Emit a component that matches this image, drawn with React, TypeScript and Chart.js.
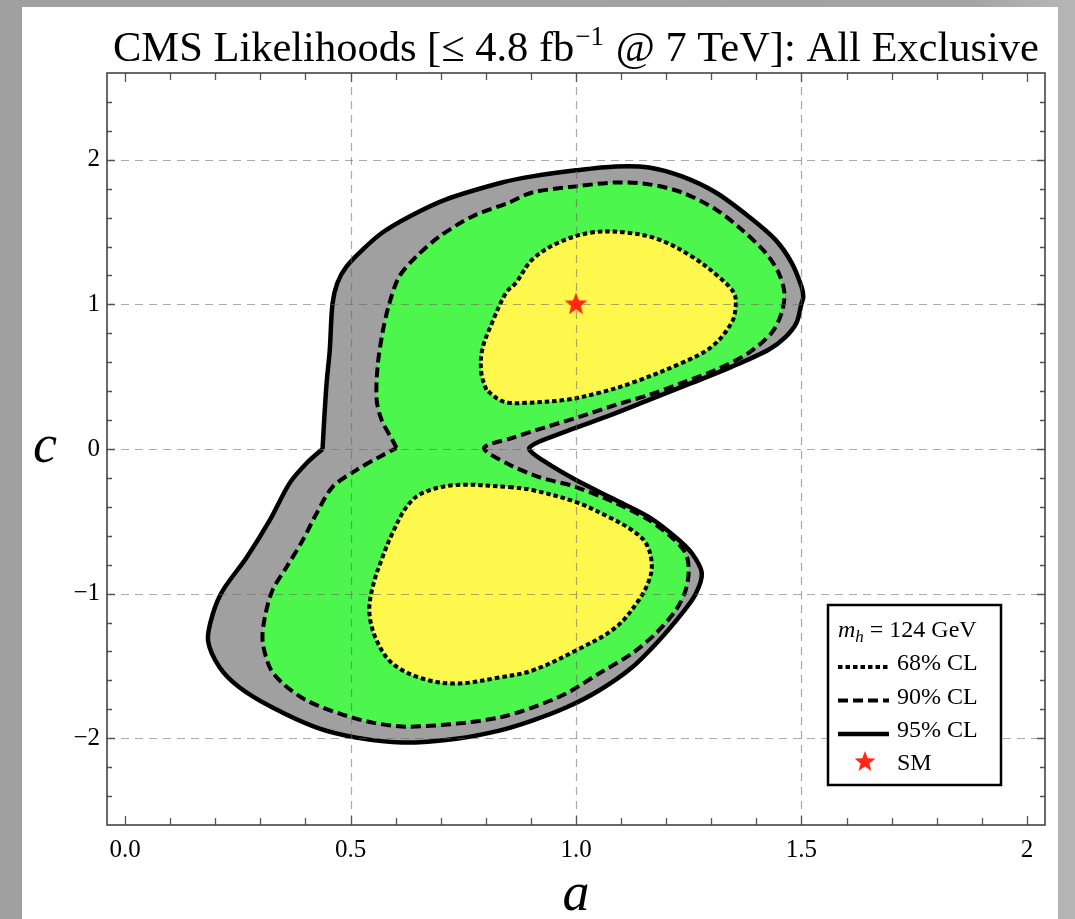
import React, { useEffect, useRef } from 'react';
import { Chart, registerables } from 'chart.js';

Chart.register(...registerables);

// 95% CL contour (solid)
const CL95_A = [0.438, 0.442, 0.447, 0.454, 0.460, 0.471, 0.491, 0.527, 0.571, 0.631, 0.712, 0.836, 0.903, 1.000, 1.088, 1.162, 1.235, 1.310, 1.383, 1.442, 1.478, 1.500, 1.504, 1.500, 1.489, 1.465, 1.427, 1.345, 1.257, 1.162, 1.066, 0.969, 0.912, 0.896, 0.925, 1.000, 1.088, 1.162, 1.221, 1.257, 1.279, 1.265, 1.235, 1.184, 1.124, 1.051, 0.978, 0.903, 0.830, 0.735, 0.615, 0.513, 0.425, 0.327, 0.254, 0.210, 0.184, 0.195, 0.217, 0.270, 0.321, 0.365, 0.403];
const CL95_C = [0, 0.222, 0.457, 0.686, 1.005, 1.150, 1.261, 1.379, 1.497, 1.608, 1.726, 1.843, 1.885, 1.927, 1.954, 1.947, 1.885, 1.774, 1.608, 1.448, 1.289, 1.123, 1.053, 1.005, 0.873, 0.776, 0.686, 0.568, 0.457, 0.340, 0.222, 0.111, 0.042, 0, -0.076, -0.215, -0.353, -0.471, -0.610, -0.721, -0.859, -1.005, -1.137, -1.324, -1.511, -1.670, -1.788, -1.878, -1.947, -2.003, -2.030, -1.996, -1.927, -1.788, -1.649, -1.511, -1.324, -1.137, -0.977, -0.748, -0.492, -0.236, -0.097];

// 90% CL contour (dashed)
const CL90_A = [0.602, 0.593, 0.569, 0.558, 0.560, 0.571, 0.586, 0.608, 0.646, 0.697, 0.770, 0.852, 0.903, 1.000, 1.088, 1.162, 1.235, 1.310, 1.367, 1.420, 1.449, 1.462, 1.456, 1.434, 1.383, 1.310, 1.235, 1.162, 1.088, 1.007, 0.934, 0.858, 0.796, 0.845, 0.918, 1.000, 1.088, 1.162, 1.212, 1.243, 1.250, 1.243, 1.221, 1.177, 1.124, 1.051, 0.978, 0.903, 0.830, 0.735, 0.624, 0.549, 0.476, 0.403, 0.350, 0.321, 0.305, 0.310, 0.327, 0.358, 0.394, 0.425, 0.460, 0.513, 0.564];
const CL90_C = [0.007, 0.062, 0.201, 0.340, 0.568, 0.804, 1.005, 1.192, 1.331, 1.469, 1.608, 1.705, 1.774, 1.816, 1.843, 1.830, 1.774, 1.656, 1.518, 1.358, 1.220, 1.081, 0.942, 0.804, 0.665, 0.547, 0.457, 0.374, 0.305, 0.222, 0.152, 0.076, 0.007, -0.097, -0.194, -0.263, -0.374, -0.492, -0.610, -0.721, -0.839, -0.977, -1.116, -1.275, -1.414, -1.552, -1.691, -1.788, -1.857, -1.899, -1.920, -1.892, -1.830, -1.739, -1.622, -1.511, -1.324, -1.164, -0.977, -0.818, -0.631, -0.444, -0.263, -0.146, -0.055];

// 68% CL contours (dotted) - upper and lower islands
const CL68U_A = [0.801, 0.790, 0.792, 0.814, 0.845, 0.867, 0.903, 0.962, 1.035, 1.111, 1.184, 1.257, 1.316, 1.350, 1.354, 1.345, 1.301, 1.235, 1.124, 1.051, 0.978, 0.889, 0.852, 0.830];
const CL68U_C = [0.409, 0.527, 0.686, 0.873, 1.081, 1.150, 1.310, 1.428, 1.497, 1.497, 1.448, 1.331, 1.192, 1.081, 0.984, 0.873, 0.707, 0.596, 0.457, 0.388, 0.340, 0.319, 0.319, 0.340];
const CL68L_A = [0.852, 0.903, 1.000, 1.073, 1.124, 1.155, 1.168, 1.162, 1.139, 1.088, 1.000, 0.903, 0.830, 0.735, 0.659, 0.593, 0.558, 0.542, 0.549, 0.571, 0.593, 0.624, 0.659, 0.735];
const CL68L_C = [-0.263, -0.284, -0.367, -0.471, -0.561, -0.651, -0.790, -0.908, -1.046, -1.234, -1.393, -1.532, -1.580, -1.622, -1.587, -1.483, -1.324, -1.137, -0.956, -0.748, -0.582, -0.402, -0.305, -0.249];

// Standard Model point
const SM_A = [1.0];
const SM_C = [1.0];

const X_TICKS = [0, 0.5, 1, 1.5, 2];
const X_TICK_LABELS = ['0.0', '0.5', '1.0', '1.5', '2'];
const Y_TICKS = [-2, -1, 0, 1, 2];
const Y_TICK_LABELS = ['\u22122', '\u22121', '0', '1', '2'];
const X_GRID = [0.5, 1, 1.5];
const Y_GRID = [-2, -1, 0, 1, 2];
const X_MINOR = [0, 0.1, 0.2, 0.3, 0.4, 0.5, 0.6, 0.7, 0.8, 0.9, 1.0, 1.1, 1.2, 1.3, 1.4, 1.5, 1.6, 1.7, 1.8, 1.9, 2.0];
const Y_MINOR = [-2.4, -2.2, -2.0, -1.8, -1.6, -1.4, -1.2, -1.0, -0.8, -0.6, -0.4, -0.2, 0, 0.2, 0.4, 0.6, 0.8, 1.0, 1.2, 1.4, 1.6, 1.8, 2.0, 2.2, 2.4];

const TITLE_MAIN = 'CMS Likelihoods [\u2264 4.8 fb';
const TITLE_SUP = '\u22121';
const TITLE_END = ' @ 7 TeV]: All Exclusive';
const LEGEND_LABELS = ['68% CL', '90% CL', '95% CL', 'SM'];

const GRAY = 'rgb(160,160,160)';
const GREEN = 'rgb(76,246,76)';
const YELLOW = 'rgb(255,248,76)';
const STAR = 'rgb(255,40,20)';
const SERIF = '"Liberation Serif", "Times New Roman", serif';

function closedPoints(a: number[], c: number[]) {
  const pts = a.map((v, i) => ({ x: v, y: c[i] }));
  pts.push({ x: a[0], y: c[0] });
  return pts;
}

function makeStar(r: number, color: string) {
  const cv = document.createElement('canvas');
  const s = Math.ceil(r * 2 + 2);
  cv.width = s;
  cv.height = s;
  const g = cv.getContext('2d')!;
  g.beginPath();
  for (let i = 0; i < 10; i++) {
    const ang = -Math.PI / 2 + (i * Math.PI) / 5;
    const rad = i % 2 === 0 ? r : r * 0.42;
    g.lineTo(s / 2 + rad * Math.cos(ang), s / 2 + rad * Math.sin(ang));
  }
  g.closePath();
  g.fillStyle = color;
  g.fill();
  return cv;
}

export default function App() {
  const ref = useRef<HTMLCanvasElement | null>(null);

  useEffect(() => {
    const canvas = ref.current;
    if (!canvas) return;
    const starImg = makeStar(12, STAR);
    const legendStar = makeStar(11, STAR);

    const decor = {
      id: 'decor',
      beforeDatasetDraw(chart: any, args: any) {
        if (args.index !== 0) return;
        const { ctx, chartArea: ca, scales } = chart;
        ctx.save();
        ctx.beginPath();
        ctx.rect(ca.left, ca.top, ca.right - ca.left, ca.bottom - ca.top);
        ctx.clip();
        ctx.strokeStyle = 'rgba(100,100,100,0.55)';
        ctx.lineWidth = 1.2;
        ctx.setLineDash([8, 6]);
        for (const v of X_GRID) {
          const px = Math.round(scales.x.getPixelForValue(v)) + 0.5;
          ctx.beginPath();
          ctx.moveTo(px, ca.top);
          ctx.lineTo(px, ca.bottom);
          ctx.stroke();
        }
        for (const v of Y_GRID) {
          const py = Math.round(scales.y.getPixelForValue(v)) + 0.5;
          ctx.beginPath();
          ctx.moveTo(ca.left, py);
          ctx.lineTo(ca.right, py);
          ctx.stroke();
        }
        ctx.restore();
      },
      afterDraw(chart: any) {
        const { ctx, chartArea: ca, scales } = chart;
        ctx.save();
        // ticks
        ctx.strokeStyle = '#555';
        ctx.lineWidth = 1.3;
        ctx.setLineDash([]);
        for (const v of X_MINOR) {
          const major = X_TICKS.some((t) => Math.abs(t - v) < 1e-6);
          const len = major ? 9 : 7;
          const px = Math.round(scales.x.getPixelForValue(v)) + 0.5;
          ctx.beginPath();
          ctx.moveTo(px, ca.bottom);
          ctx.lineTo(px, ca.bottom - len);
          ctx.moveTo(px, ca.top);
          ctx.lineTo(px, ca.top + len);
          ctx.stroke();
        }
        for (const v of Y_MINOR) {
          const major = Y_TICKS.some((t) => Math.abs(t - v) < 1e-6);
          const len = major ? 8 : 5;
          const py = Math.round(scales.y.getPixelForValue(v)) + 0.5;
          ctx.beginPath();
          ctx.moveTo(ca.left, py);
          ctx.lineTo(ca.left + len, py);
          ctx.moveTo(ca.right, py);
          ctx.lineTo(ca.right - len, py);
          ctx.stroke();
        }
        // frame
        ctx.strokeStyle = '#444';
        ctx.lineWidth = 1.6;
        ctx.strokeRect(ca.left, ca.top, ca.right - ca.left, ca.bottom - ca.top);

        // title
        ctx.fillStyle = '#000';
        ctx.textBaseline = 'alphabetic';
        ctx.textAlign = 'left';
        const mainFont = `42.5px ${SERIF}`;
        const supFont = `27px ${SERIF}`;
        ctx.font = mainFont;
        const w1 = ctx.measureText(TITLE_MAIN).width;
        const w3 = ctx.measureText(TITLE_END).width;
        ctx.font = supFont;
        const w2 = ctx.measureText(TITLE_SUP).width + 2;
        const total = w1 + w2 + w3;
        const cx = (ca.left + ca.right) / 2;
        let tx = cx - total / 2;
        const ty = 54;
        ctx.font = mainFont;
        ctx.fillText(TITLE_MAIN, tx, ty);
        tx += w1 + 1;
        ctx.font = supFont;
        ctx.fillText(TITLE_SUP, tx, ty - 16);
        tx += w2 - 1;
        ctx.font = mainFont;
        ctx.fillText(TITLE_END, tx, ty);

        // axis titles
        ctx.font = `italic 54px ${SERIF}`;
        ctx.textAlign = 'center';
        ctx.fillText('a', (ca.left + ca.right) / 2, 903);
        ctx.fillText('c', 23, 455);

        // legend
        const bx = ca.right - 217;
        const by = ca.bottom - 220;
        const bw = 173;
        const bh = 180;
        ctx.fillStyle = '#fff';
        ctx.fillRect(bx, by, bw, bh);
        ctx.strokeStyle = '#000';
        ctx.lineWidth = 2.5;
        ctx.strokeRect(bx, by, bw, bh);

        ctx.fillStyle = '#000';
        ctx.textAlign = 'left';
        let lx = bx + 10;
        const base0 = by + 32;
        ctx.font = `italic 24px ${SERIF}`;
        ctx.fillText('m', lx, base0);
        lx += ctx.measureText('m').width;
        ctx.font = `italic 17px ${SERIF}`;
        ctx.fillText('h', lx, base0 + 5);
        lx += ctx.measureText('h').width;
        ctx.font = `24px ${SERIF}`;
        ctx.fillText(' = 124 GeV', lx, base0);

        const rows = [
          { dash: [4.5, 3], lw: 4 },
          { dash: [10, 5], lw: 4 },
          { dash: [], lw: 4.5 },
        ];
        rows.forEach((r, i) => {
          const base = by + 65 + i * 33.5;
          ctx.save();
          ctx.strokeStyle = '#000';
          ctx.lineWidth = r.lw;
          ctx.lineCap = 'butt';
          ctx.setLineDash(r.dash);
          ctx.beginPath();
          ctx.moveTo(bx + 10, base - 3);
          ctx.lineTo(bx + 61, base - 3);
          ctx.stroke();
          ctx.restore();
          ctx.font = `24px ${SERIF}`;
          ctx.fillText(LEGEND_LABELS[i], bx + 69, base);
        });
        const smBase = by + 165;
        ctx.drawImage(legendStar, bx + 37 - legendStar.width / 2, smBase - 8 - legendStar.height / 2);
        ctx.font = `24px ${SERIF}`;
        ctx.fillText(LEGEND_LABELS[3], bx + 69, smBase);
        ctx.restore();
      },
    };

    const chart = new Chart(canvas, {
      type: 'line',
      data: {
        datasets: [
          {
            label: 'SM',
            data: SM_A.map((v, i) => ({ x: v, y: SM_C[i] })),
            showLine: false,
            pointStyle: starImg as any,
            pointRadius: 12,
            order: 0,
          },
          {
            label: '68% CL upper',
            data: closedPoints(CL68U_A, CL68U_C),
            borderColor: '#000',
            borderWidth: 4,
            borderDash: [4.5, 3],
            borderCapStyle: 'butt',
            backgroundColor: YELLOW,
            fill: 'shape',
            tension: 0.35,
            pointRadius: 0,
            order: 1,
          },
          {
            label: '68% CL lower',
            data: closedPoints(CL68L_A, CL68L_C),
            borderColor: '#000',
            borderWidth: 4,
            borderDash: [4.5, 3],
            borderCapStyle: 'butt',
            backgroundColor: YELLOW,
            fill: 'shape',
            tension: 0.35,
            pointRadius: 0,
            order: 1,
          },
          {
            label: '90% CL',
            data: closedPoints(CL90_A, CL90_C),
            borderColor: '#000',
            borderWidth: 4,
            borderDash: [10, 5],
            borderCapStyle: 'butt',
            backgroundColor: GREEN,
            fill: 'shape',
            tension: 0.3,
            pointRadius: 0,
            order: 2,
          },
          {
            label: '95% CL',
            data: closedPoints(CL95_A, CL95_C),
            borderColor: '#000',
            borderWidth: 4.5,
            backgroundColor: GRAY,
            fill: 'shape',
            tension: 0.3,
            pointRadius: 0,
            order: 3,
          },
        ],
      },
      options: {
        animation: false,
        responsive: false,
        maintainAspectRatio: false,
        layout: { padding: { top: 66, right: 11, left: 0, bottom: 0 } },
        plugins: {
          legend: { display: false },
          tooltip: { enabled: false },
          title: { display: false },
        },
        scales: {
          x: {
            type: 'linear',
            min: -0.04,
            max: 2.04,
            grid: { display: false, drawTicks: false },
            border: { display: false },
            afterBuildTicks: (scale: any) => {
              scale.ticks = X_TICKS.map((v) => ({ value: v }));
            },
            afterFit: (scale: any) => {
              scale.height = 94;
            },
            ticks: {
              autoSkip: false,
              maxRotation: 0,
              padding: 10,
              color: '#000',
              font: { family: SERIF, size: 25 },
              callback: (v: any) => {
                const i = X_TICKS.findIndex((t) => Math.abs(t - Number(v)) < 1e-6);
                return i >= 0 ? X_TICK_LABELS[i] : '';
              },
            },
          },
          y: {
            type: 'linear',
            min: -2.6,
            max: 2.6,
            grid: { display: false, drawTicks: false },
            border: { display: false },
            afterBuildTicks: (scale: any) => {
              scale.ticks = Y_TICKS.map((v) => ({ value: v }));
            },
            afterFit: (scale: any) => {
              scale.width = 85;
            },
            ticks: {
              autoSkip: false,
              padding: 7,
              color: '#000',
              font: { family: SERIF, size: 25 },
              callback: (v: any) => {
                const i = Y_TICKS.findIndex((t) => Math.abs(t - Number(v)) < 1e-6);
                return i >= 0 ? Y_TICK_LABELS[i] : '';
              },
            },
          },
        },
      } as any,
      plugins: [decor],
    });
    return () => chart.destroy();
  }, []);

  return (
    <div
      style={{
        position: 'fixed',
        left: 0,
        top: 0,
        width: 1075,
        height: 919,
        background: 'linear-gradient(to right, #a0a0a0, #a3a3a3 90%, #b4b4b4 98%)',
        overflow: 'hidden',
      }}
    >
      <div
        style={{
          position: 'absolute',
          left: 22,
          top: 7,
          width: 1036,
          height: 912,
          background: '#fff',
        }}
      >
        <canvas ref={ref} width={1036} height={912} style={{ display: 'block', width: 1036, height: 912 }} />
      </div>
    </div>
  );
}
